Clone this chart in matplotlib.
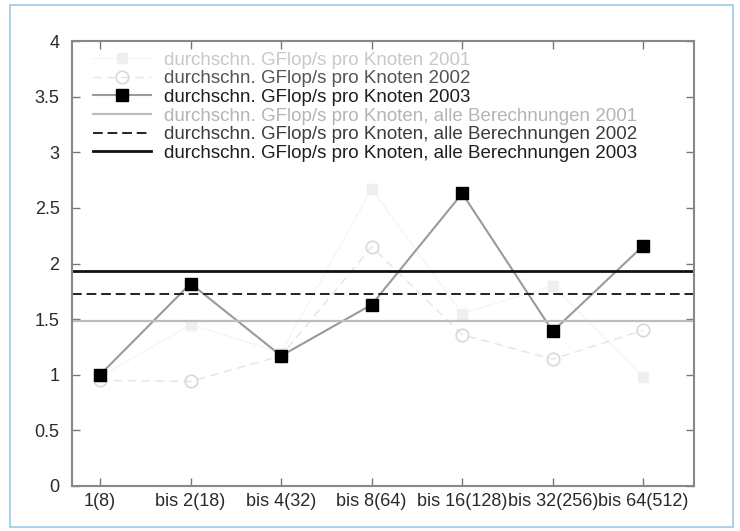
import matplotlib
matplotlib.use('Agg')
import matplotlib.pyplot as plt
from matplotlib.patches import Rectangle

plt.rcParams['font.family'] = ['Liberation Sans', 'DejaVu Sans']

# categories (Knoten-Klassen)
categories = ['1(8)', 'bis 2(18)', 'bis 4(32)', 'bis 8(64)',
              'bis 16(128)', 'bis 32(256)', 'bis 64(512)']

# average GFlop/s per node (2001/2002 are barely visible)
gflops_2001 = [0.98, 1.45, 1.20, 2.67, 1.55, 1.80, 0.98]
gflops_2002 = [0.95, 0.94, 1.17, 2.15, 1.36, 1.14, 1.40]
gflops_2003 = [1.00, 1.82, 1.17, 1.63, 2.63, 1.39, 2.16]

# averages over all computations
avg_all = {'2001': 1.48, '2002': 1.73, '2003': 1.93}

yticks = [0, 0.5, 1, 1.5, 2, 2.5, 3, 3.5, 4]
ytick_labels = ['0', '0.5', '1', '1.5', '2', '2.5', '3', '3.5', '4']

label_pt = 'durchschn. GFlop/s pro Knoten {}'
label_all = 'durchschn. GFlop/s pro Knoten, alle Berechnungen {}'

fig = plt.figure(figsize=(7.4, 5.31), dpi=100)
ax = fig.add_axes([72 / 740, 45 / 531, (694 - 72) / 740, (486 - 41) / 531])

# light blue frame around the whole picture
fig.patches.append(Rectangle((10 / 740, 4 / 531), 723 / 740, 522 / 531,
                             transform=fig.transFigure, fill=False,
                             edgecolor='#9ccbe8', linewidth=1.2))

x = list(range(len(categories)))

# the scanned 2001/2002 series have almost faded away
ax.plot(x, gflops_2001, color='#f5f5f5', lw=1.0, marker='s', ms=7,
        mfc='#efefef', mec='#efefef', label=label_pt.format(2001))
ax.plot(x, gflops_2002, color='#e4e4e4', lw=1.0, ls=(0, (6, 4)), marker='o', ms=9,
        mfc='none', mec='#d8d8d8', mew=1.2, label=label_pt.format(2002))
ax.plot(x, gflops_2003, color='#9a9a9a', lw=1.5, marker='s', ms=9,
        mfc='black', mec='black', label=label_pt.format(2003))

ax.axhline(avg_all['2001'], color='#bdbdbd', lw=1.6, label=label_all.format(2001))
ax.axhline(avg_all['2002'], color='#222222', lw=1.4, ls=(0, (5, 2.5)),
           label=label_all.format(2002))
ax.axhline(avg_all['2003'], color='#111111', lw=2.0, label=label_all.format(2003))

ax.set_xlim(-0.31, 6.56)
ax.set_ylim(0, 4)
ax.set_xticks(x)
ax.set_xticklabels(categories)
ax.set_yticks(yticks)
ax.set_yticklabels(ytick_labels)
ax.tick_params(direction='in', length=6, width=1, color='#777777',
               top=True, right=True, labelsize=13, labelcolor='#2a2a2a')
ax.tick_params(axis='x', pad=5)
ax.tick_params(axis='y', pad=9)
for sp in ax.spines.values():
    sp.set_color('#888888')
    sp.set_linewidth(1.5)

leg = ax.legend(loc='upper left', bbox_to_anchor=(0.034, 0.976), frameon=False,
                fontsize=13.5, handlelength=3.1, handletextpad=0.7,
                labelspacing=0.08, borderaxespad=0, borderpad=0)
text_colors = ['#c8c8c8', '#555555', '#1e1e1e', '#b4b4b4', '#3c3c3c', '#1e1e1e']
for t, c in zip(leg.get_texts(), text_colors):
    t.set_color(c)

fig.savefig('out.png', dpi=100)
